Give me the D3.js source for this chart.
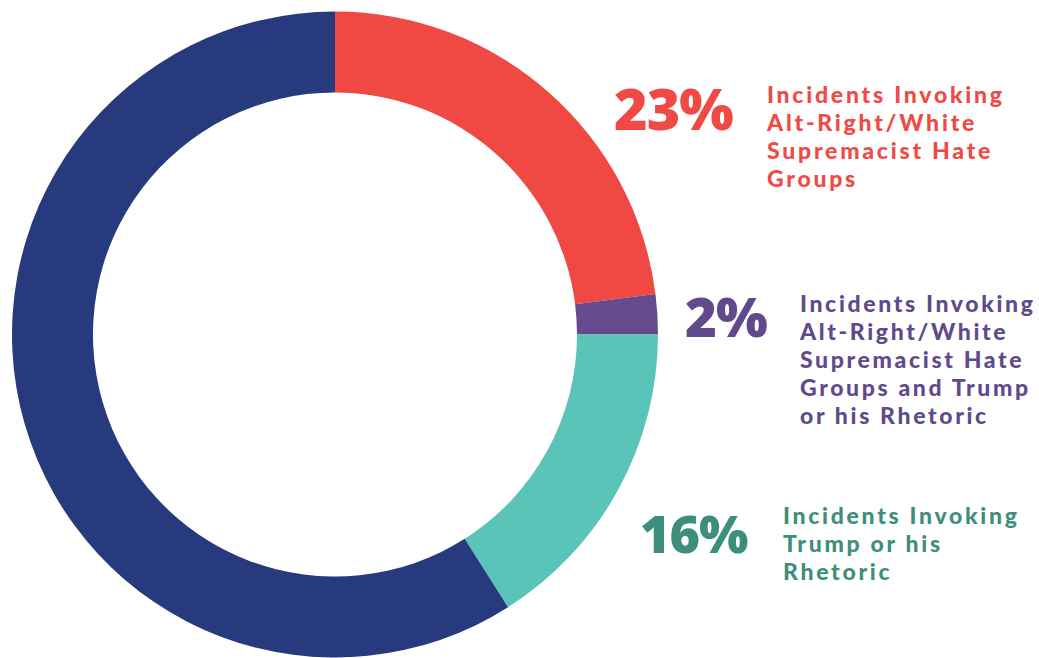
<!DOCTYPE html>
<html>
<head>
<meta charset="utf-8">
<script src="https://cdn.jsdelivr.net/npm/d3@7"></script>
<style>
  html, body { margin: 0; padding: 0; background: #ffffff; }
  svg { display: block; }
  .pct { font-family: "Open Sans", sans-serif; font-weight: 800; }
  .lbl { font-family: "Lato", "Open Sans", sans-serif; font-weight: 900; }
</style>
</head>
<body>
<svg id="chart" width="1039" height="658"></svg>
<script>
// Share of incidents by what they invoke (percent)
const categories = [
  "Incidents Invoking Alt-Right/White Supremacist Hate Groups",
  "Incidents Invoking Alt-Right/White Supremacist Hate Groups and Trump or his Rhetoric",
  "Incidents Invoking Trump or his Rhetoric",
  "Other Incidents"
];
const values = [23, 2, 16, 59];
const sliceColors = ["#F04943", "#654A8D", "#5BC4B9", "#263A7D"];
const textColors = ["#EF4A45", "#614A8C", "#3E8E7D", null];
const labelLines = [
  ["Incidents Invoking", "Alt-Right/White", "Supremacist Hate", "Groups"],
  ["Incidents Invoking", "Alt-Right/White", "Supremacist Hate", "Groups and Trump", "or his Rhetoric"],
  ["Incidents Invoking", "Trump or his", "Rhetoric"],
  []
];

const svg = d3.select("#chart");
const cx = 335, cy = 334.5, outerR = 323, innerR = 242;

const pie = d3.pie().sort(null).value(d => d)(values);
const arc = d3.arc().innerRadius(innerR).outerRadius(outerR);

const ring = svg.append("g").attr("transform", `translate(${cx},${cy})`);
ring.selectAll("path")
  .data(pie)
  .join("path")
  .attr("d", arc)
  .attr("fill", (d, i) => sliceColors[i]);

// Callout placement for the three labelled slices
const callouts = [
  { px: 614, pBase: 130, pW: 119, lx: 767, lBase: 103, lW: 235 },
  { px: 685, pBase: 337, pW: 82,  lx: 800, lBase: 312, lW: 233 },
  { px: 640, pBase: 553, pW: 108, lx: 783, lBase: 524, lW: 234 }
];
const lineH = 28;
const labelSize = 23;

callouts.forEach((c, i) => {
  const g = svg.append("g");
  const pct = g.append("text")
    .attr("class", "pct")
    .attr("x", c.px).attr("y", c.pBase)
    .attr("fill", textColors[i])
    .attr("font-size", 60)
    .attr("letter-spacing", -1)
    .text(values[i] + "%");
  const pw = pct.node().getComputedTextLength();
  pct.attr("font-size", 60 * c.pW / pw);

  const t = g.append("text")
    .attr("class", "lbl")
    .attr("fill", textColors[i])
    .attr("font-size", labelSize);
  labelLines[i].forEach((line, j) => {
    t.append("tspan").attr("x", c.lx).attr("y", c.lBase + j * lineH).text(line);
  });
  // widen tracking so the first line spans the callout width
  const firstLine = labelLines[i][0];
  const w = t.select("tspan").node().getComputedTextLength();
  const ls = (c.lW - w) / (firstLine.length - 1);
  t.attr("letter-spacing", ls);
});
</script>
</body>
</html>
